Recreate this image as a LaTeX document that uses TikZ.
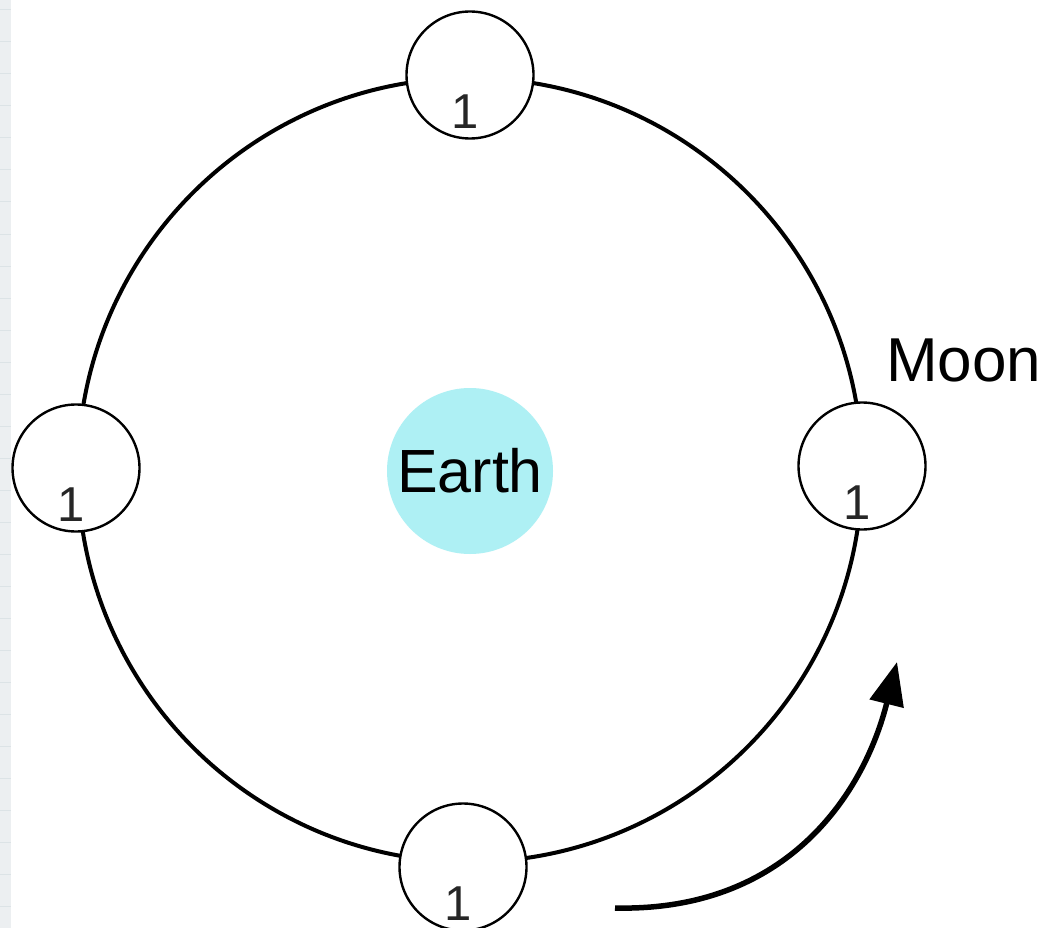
\documentclass[tikz,border=0pt]{standalone}
\usepackage{fontspec}
\setmainfont{Liberation Sans}
\usetikzlibrary{arrows.meta}
\definecolor{earthcyan}{RGB}{174,240,244}
\definecolor{stripgray}{RGB}{236,239,241}
\definecolor{stripline}{RGB}{220,227,230}
\begin{document}
\begin{tikzpicture}[x=1pt,y=-1pt,
  moon/.style={circle,draw=black,line width=2.4pt,fill=white,minimum size=127pt,inner sep=0pt,
    label={[anchor=base,xshift=-5pt,yshift=-37pt,font=\fontsize{49}{56}\selectfont,text=black!85]center:1}},
  orbit/.style={draw=black,line width=4pt},
  earth/.style={circle,fill=earthcyan,minimum size=166pt,inner sep=0pt,font=\fontsize{61}{70}\selectfont},
  moonlabel/.style={anchor=base west,inner sep=0pt,font=\fontsize{62}{72}\selectfont},
  motion/.style={line width=5.5pt,-{Triangle[length=43pt,width=34pt]}}]
\useasboundingbox (0,0) rectangle (1049,928);
\fill[white] (0,0) rectangle (1049,928);
% left strip
\fill[stripgray] (0,0) rectangle (11,928);
\foreach \yy in {10,42,...,928} \draw[stripline,line width=1pt] (0,\yy) -- (11,\yy);
% orbit
\draw[orbit] (470,470) circle[radius=392];
% earth
\node[earth] (earth) at (470,471) {Earth};
% moons
\node[moon] (mtop) at (470,75) {};
\node[moon] (mleft) at (76,468) {};
\node[moon] (mright) at (862,466) {};
\node[moon] (mbottom) at (463,867) {};
\node[moonlabel] (moontext) at (886,381) {Moon};
% motion arrow
\coordinate (as) at (615,908);
\coordinate (at) at (897,662);
\draw[motion] (as) .. controls (790,912) and (865,790) .. (at);
\end{tikzpicture}
\end{document}
